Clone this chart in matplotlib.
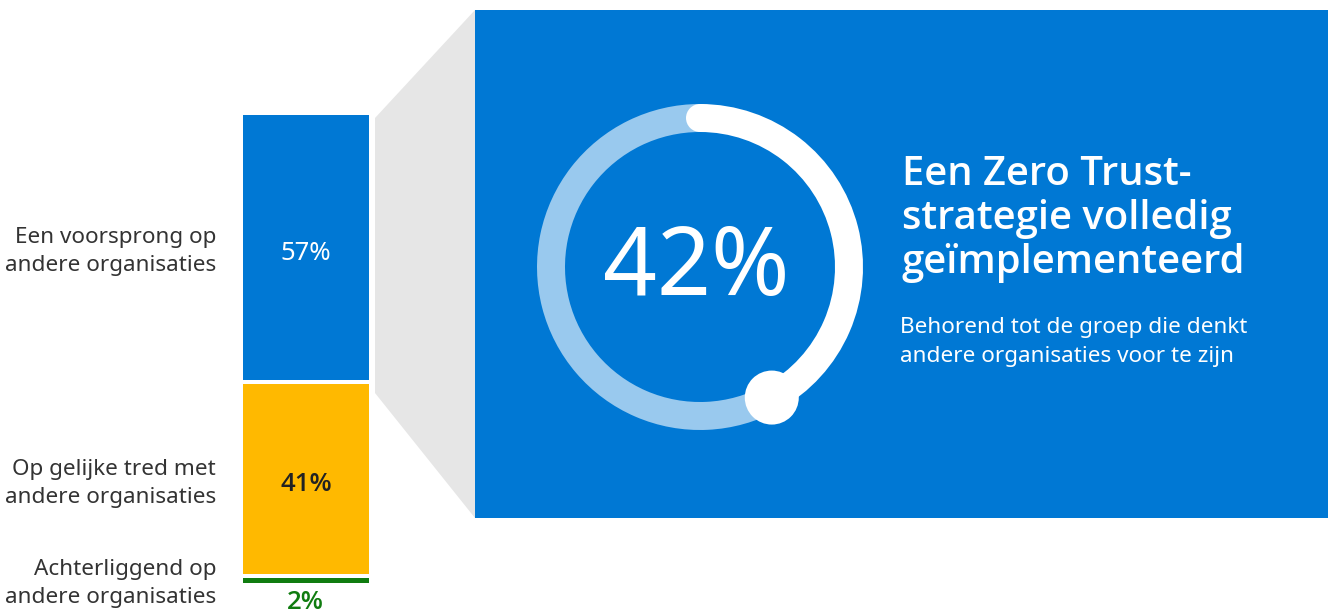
import matplotlib
matplotlib.use("Agg")
import matplotlib.pyplot as plt
from matplotlib.patches import Polygon, Rectangle, Circle
import numpy as np

# ---------------- data ----------------
categories = ["Een voorsprong op\nandere organisaties",
              "Op gelijke tred met\nandere organisaties",
              "Achterliggend op\nandere organisaties"]
shares = [57, 41, 2]
share_labels = ["57%", "41%", "2%"]
highlight_value = 42
highlight_label = "42%"
title_lines = ["Een Zero Trust-", "strategie volledig", "geïmplementeerd"]
subtitle_lines = ["Behorend tot de groep die denkt", "andere organisaties voor te zijn"]

# ---------------- style ----------------
BLUE = "#0078D4"
YELLOW = "#FFB900"
GREEN = "#107C10"
GREY = "#E6E6E6"
LIGHT = "#99C9EE"
DARK = "#333333"
FONT = ["Noto Sans", "DejaVu Sans"]
SEMI = ["Open Sans", "Noto Sans", "DejaVu Sans"]
plt.rcParams["font.family"] = FONT

W, H = 1333, 615
fig = plt.figure(figsize=(W / 100, H / 100), dpi=100)

def fbox(x0, y0, x1, y1):
    return [x0 / W, 1 - y1 / H, (x1 - x0) / W, (y1 - y0) / H]

bg = fig.add_axes([0, 0, 1, 1])
bg.set_xlim(0, W)
bg.set_ylim(H, 0)
bg.axis("off")

# grey connector and blue panel
bg.add_patch(Polygon([(375, 118), (475, 10), (475, 518), (375, 393)],
                     closed=True, facecolor=GREY, edgecolor="none", zorder=1))
bg.add_patch(Rectangle((475, 10), 1328 - 475, 508, facecolor=BLUE,
                       edgecolor="none", zorder=2))

# ---------------- stacked bar ----------------
scale = 4.72
bar_bottom_px = 585.0
bar_top_px = bar_bottom_px - 100 * scale
axb = fig.add_axes(fbox(241 - 2, bar_top_px, 371 + 2, bar_bottom_px))
axb.set_xlim(-0.5 - 2 / 130, 0.5 + 2 / 130)
axb.set_ylim(0, 100)
axb.axis("off")
colors = [BLUE, YELLOW, GREEN]
text_colors = ["white", "#222222", GREEN]
bottoms = [100 - shares[0], 100 - shares[0] - shares[1], 0]
for val, bot, col in zip(shares, bottoms, colors):
    axb.bar([0], [val], bottom=bot, width=1.0, color=col,
            edgecolor="white", linewidth=2.88)
for i, (val, bot, lab) in enumerate(zip(shares, bottoms, share_labels)):
    if i < 2:
        axb.text(0, bot + val / 2 - 0.6, lab, ha="center", va="center_baseline",
                 fontsize=18.5, color=text_colors[i],
                 family=FONT if i == 0 else SEMI,
                 fontweight="normal" if i == 0 else "semibold")
    else:
        bg.text(305, 609, lab, ha="center", va="baseline", fontsize=18.5,
                color=text_colors[i], family=SEMI, fontweight="semibold")

# ---------------- category labels ----------------
label_baselines = [243, 475, 575]
for cat, yb in zip(categories, label_baselines):
    for j, line in enumerate(cat.split("\n")):
        bg.text(216, yb + j * 27.5, line, ha="right", va="baseline",
                fontsize=16.2, color=DARK)

# ---------------- donut ----------------
cx, cy, R = 700, 267, 163
axd = fig.add_axes(fbox(cx - R, cy - R, cx + R, cy + R))
ring_w = 28 / R
axd.pie([highlight_value, 100 - highlight_value], colors=["white", LIGHT],
        startangle=90, counterclock=False, radius=1.0,
        wedgeprops=dict(width=ring_w, edgecolor="none"))
axd.set_xlim(-1, 1)
axd.set_ylim(-1, 1)
axd.set_aspect("equal")
axd.axis("off")
rc = 1 - ring_w / 2
ang_end = np.deg2rad(90 - highlight_value / 100 * 360)
axd.add_patch(Circle((0, rc), ring_w / 2, facecolor="white", edgecolor="none", zorder=5))
axd.add_patch(Circle((rc * np.cos(ang_end), rc * np.sin(ang_end)), 27 / R,
                     facecolor="white", edgecolor="none", zorder=6))
axd.text(-0.02, -0.02, highlight_label, ha="center", va="center",
         fontsize=68, color="white", zorder=7)

# ---------------- panel text ----------------
for j, line in enumerate(title_lines):
    bg.text(902, 185 + j * 44, line, ha="left", va="baseline",
            fontsize=28.8, fontweight="semibold", family=SEMI,
            color="white", zorder=5)
for j, line in enumerate(subtitle_lines):
    bg.text(900, 333 + j * 29, line, ha="left", va="baseline",
            fontsize=16.2, color="white", zorder=5)

fig.savefig("out.png", dpi=100, facecolor="white")
